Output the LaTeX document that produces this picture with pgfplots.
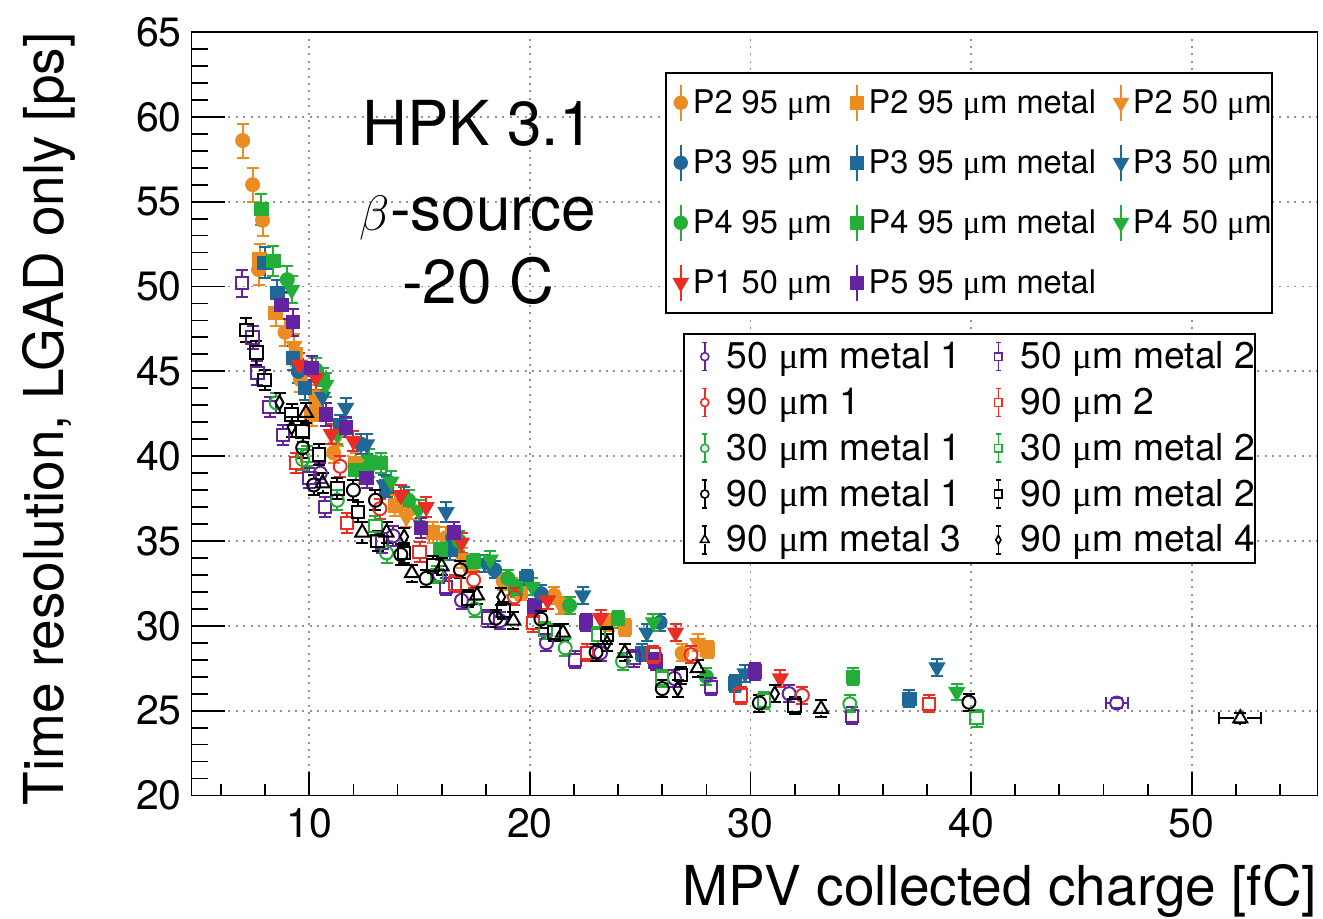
\documentclass[border=0pt]{standalone}
\usepackage{pgfplots}
\pgfplotsset{compat=1.18}
\usepackage{fontspec}
\setmainfont{TeX Gyre Heros}
\newfontfamily\mufont{Liberation Serif}
\newcommand{\um}{{\mufont μ}m}
\definecolor{cor}{RGB}{235,140,35}
\definecolor{cbl}{RGB}{30,105,150}
\definecolor{cgr}{RGB}{35,175,55}
\definecolor{crd}{RGB}{235,45,35}
\definecolor{cpu}{RGB}{100,35,160}
\pgfplotsset{
  leg1/.style={legend image code/.code={
     \path[draw=none, fill=none] (-7.5pt,-15pt) rectangle (6pt,15pt);
     \draw[##1, solid, line width=1pt] (0pt,-9pt) -- (0pt,9pt);
     \draw[##1, solid, every mark/.append style={scale=0.95}] plot coordinates {(0pt,0pt)};}},
  leg2/.style={legend image code/.code={
     \path[draw=none, fill=none] (-10.5pt,-11.45pt) rectangle (11pt,11.45pt);
     \draw[##1, solid, line width=0.8pt] (0pt,-7pt) -- (0pt,-2.2pt) (0pt,2.2pt) -- (0pt,7pt) (-1.2pt,-7pt) -- (1.2pt,-7pt) (-1.2pt,7pt) -- (1.2pt,7pt);
     \draw[##1, solid, line width=0.8pt, every mark/.append style={scale=0.62}] plot coordinates {(0pt,0pt)};}},
  fc/.style={only marks, color=#1, mark=*, mark size=3.25pt, line width=1pt, leg1},
  fs/.style={only marks, color=#1, mark=square*, mark size=3.1pt, line width=1pt, leg1},
  ft/.style={only marks, color=#1, mark=triangle*, mark size=4pt, mark options={rotate=180}, line width=1pt, leg1},
  oc/.style={only marks, color=#1, mark=o, mark size=3.25pt, line width=1pt, leg2},
  os/.style={only marks, color=#1, mark=square, mark size=3.1pt, line width=1pt, leg2},
  ot/.style={only marks, color=#1, mark=triangle, mark size=4pt, line width=1pt, leg2},
  od/.style={only marks, color=#1, mark=diamond, mark size=3.6pt, mark options={xscale=0.75}, line width=1pt, leg2},
  common/.style={
    scale only axis, width=563pt, height=381.75pt,
    at={(0pt,0pt)}, anchor=south west,
    xmin=4.66, xmax=55.7, ymin=20, ymax=65,
    tick align=inside, xtick pos=left, ytick pos=left,
    error bars/y dir=both, error bars/y explicit,
    error bars/error mark options={rotate=90, mark size=3pt, line width=1pt},
  },
}
\begin{document}
\begin{tikzpicture}
\useasboundingbox (-95.75pt,-61.75pt) rectangle (565.75pt,397.75pt);
\begin{axis}[common, name=main,
  xtick={10,20,30,40,50}, ytick={20,25,...,65},
  minor y tick num=4,
  major tick length=16.5pt, minor tick length=8.5pt,
  xtick style={draw=none},
  ytick style={black, line width=0.9pt},
  axis line style={black, line width=0.9pt},
  xmajorgrids, ymajorgrids,
  major grid style={gray!85, line width=0.9pt, dash pattern=on 1pt off 2.7pt},
  /pgf/number format/assume math mode=true,
  tick label style={font=\fontsize{20.5}{24}\selectfont},
  xticklabel style={anchor=north, inner sep=0pt, yshift=-6.25pt},
  yticklabel style={anchor=east, inner sep=0pt, xshift=-4.75pt},
  xlabel={MPV collected charge [fC]},
  ylabel={Time resolution, LGAD only [ps]},
  every axis x label/.style={at={(axis description cs:1,-0.1447)}, anchor=base east, inner sep=0pt, font=\fontsize{27.5}{33}\selectfont},
  every axis y label/.style={at={(axis description cs:-0.1141,1)}, rotate=90, anchor=base east, inner sep=0pt, font=\fontsize{27.5}{33}\selectfont},
  error bars/error bar style={line width=1pt},
  legend columns=3,
  legend style={at={(0.4205,0.9476)}, anchor=north west, draw=black, line width=0.8pt, fill=white,
    inner xsep=0pt, inner ysep=0pt, row sep=0pt, font=\fontsize{16.3}{19}\selectfont,
    nodes={inner sep=0pt}, cells={anchor=west},
    /tikz/every even column/.append style={column sep=5pt}},
]
\addplot[fc=cor] coordinates {
(6.98,58.6) +- (0,1.0) (7.43,56.0) +- (0,1.0) (7.88,53.9) +- (0,0.9) (7.7,51.0) +- (0,0.9)
(8.9,47.3) +- (0,0.8) (9.6,44.5) +- (0,0.7) (10.3,43.5) +- (0,0.7) (11.1,40.2) +- (0,0.6)
(12.5,39.0) +- (0,0.6) (14.6,36.9) +- (0,0.6) (16.2,35.2) +- (0,0.6) (18.8,32.6) +- (0,0.5)
(21.1,31.8) +- (0,0.5) (23.6,30.2) +- (0,0.5) (26.9,28.4) +- (0,0.5)};
\addlegendentry{P2 95 \um}
\addplot[fs=cor] coordinates {
(7.75,51.6) +- (0,0.9) (8.47,48.45) +- (0,0.8) (9.4,46.0) +- (0,0.7) (10.1,42.45) +- (0,0.7)
(10.3,43.15) +- (0,0.7) (12.1,39.6) +- (0,0.6) (13.9,37.1) +- (0,0.6) (15.6,35.5) +- (0,0.6)
(17.3,33.6) +- (0,0.5) (19.6,32.0) +- (0,0.5) (21.6,31.2) +- (0,0.5) (24.3,29.9) +- (0,0.5)
(28.05,28.6) +- (0,0.5)};
\addlegendentry{P2 95 \um\ metal}
\addplot[ft=cor] coordinates {
(9.3,46.5) +- (0,0.7) (11.3,41.2) +- (0,0.6) (14.4,36.4) +- (0,0.6) (16.9,34.0) +- (0,0.6)
(19.2,32.3) +- (0,0.5) (21.4,31.2) +- (0,0.5) (27.6,29.0) +- (0,0.5)};
\addlegendentry{P2 50 \um\hspace{2.5pt}}
\addplot[fc=cbl] coordinates {
(9.5,45.0) +- (0,0.7) (12.35,40.7) +- (0,0.6) (14.3,37.6) +- (0,0.6) (16.5,35.2) +- (0,0.6)
(18.4,33.3) +- (0,0.5) (20.5,31.9) +- (0,0.5) (25.9,30.2) +- (0,0.5)};
\addlegendentry{P3 95 \um}
\addplot[fs=cbl] coordinates {
(7.97,51.4) +- (0,0.9) (8.55,49.6) +- (0,0.8) (9.25,45.8) +- (0,0.7) (9.8,44.0) +- (0,0.7)
(11.4,41.8) +- (0,0.6) (13.5,38.2) +- (0,0.6) (16.4,34.5) +- (0,0.6) (19.85,32.8) +- (0,0.5)
(25.1,28.4) +- (0,0.5) (29.3,26.6) +- (0,0.5) (37.2,25.7) +- (0,0.5)};
\addlegendentry{P3 95 \um\ metal}
\addplot[ft=cbl] coordinates {
(10.6,43.5) +- (0,0.7) (11.65,42.85) +- (0,0.6) (12.6,40.7) +- (0,0.6) (13.4,38.3) +- (0,0.6)
(16.2,36.7) +- (0,0.6) (17.95,33.7) +- (0,0.5) (22.4,31.8) +- (0,0.5) (25.3,29.6) +- (0,0.5)
(29.75,27.2) +- (0,0.5) (38.45,27.55) +- (0,0.5)};
\addlegendentry{P3 50 \um\hspace{2.5pt}}
\addplot[fc=cgr] coordinates {
(9.0,50.4) +- (0,0.8) (10.3,45.1) +- (0,0.7) (12.7,39.4) +- (0,0.6) (14.5,37.4) +- (0,0.6)
(16.8,35.0) +- (0,0.6) (19.0,32.8) +- (0,0.5) (21.8,31.2) +- (0,0.5) (28.0,27.0) +- (0,0.5)};
\addlegendentry{P4 95 \um}
\addplot[fs=cgr] coordinates {
(7.83,54.55) +- (0,0.9) (8.37,51.5) +- (0,0.9) (10.6,44.5) +- (0,0.7) (12.1,39.2) +- (0,0.6)
(13.25,39.6) +- (0,0.6) (15.95,34.5) +- (0,0.6) (17.45,33.75) +- (0,0.5) (19.35,32.2) +- (0,0.5)
(24.0,30.4) +- (0,0.5) (34.65,27.0) +- (0,0.5)};
\addlegendentry{P4 95 \um\ metal}
\addplot[ft=cgr] coordinates {
(9.2,49.8) +- (0,0.8) (10.75,44.2) +- (0,0.7) (11.27,41.3) +- (0,0.6) (12.7,39.8) +- (0,0.6)
(13.7,38.5) +- (0,0.6) (14.95,36.8) +- (0,0.6) (18.2,33.9) +- (0,0.5) (20.1,32.3) +- (0,0.5)
(25.6,30.2) +- (0,0.5) (39.35,26.1) +- (0,0.5)};
\addlegendentry{P4 50 \um\hspace{2.5pt}}
\addplot[ft=crd] coordinates {
(9.55,45.4) +- (0,0.7) (10.3,44.6) +- (0,0.7) (11.0,41.3) +- (0,0.6) (12.0,40.9) +- (0,0.6)
(14.15,37.7) +- (0,0.6) (15.3,37.0) +- (0,0.6) (16.9,34.9) +- (0,0.6) (20.8,31.5) +- (0,0.5)
(23.2,30.45) +- (0,0.5) (26.6,29.6) +- (0,0.5) (31.35,26.9) +- (0,0.5)};
\addlegendentry{P1 50 \um}
\addplot[fs=cpu] coordinates {
(8.74,48.9) +- (0,0.8) (9.25,47.9) +- (0,0.8) (10.1,45.2) +- (0,0.7) (10.75,42.45) +- (0,0.7)
(11.65,41.7) +- (0,0.6) (12.6,38.7) +- (0,0.6) (15.05,35.75) +- (0,0.6) (16.55,35.5) +- (0,0.6)
(20.2,31.1) +- (0,0.5) (22.55,30.2) +- (0,0.5) (25.7,27.9) +- (0,0.5) (30.2,27.3) +- (0,0.5)};
\addlegendentry{P5 95 \um\ metal}
\node[anchor=base, font=\fontsize{31}{37}\selectfont] at (axis cs:17.65,58.33) {HPK 3.1};
\node[anchor=base, font=\fontsize{31}{37}\selectfont] at (axis cs:17.65,53.32) {$\beta$-source};
\node[anchor=base, font=\fontsize{31}{37}\selectfont] at (axis cs:17.65,49.02) {-20 C};
\end{axis}
\begin{axis}[common,
  axis line style={draw=none},
  ytick=\empty, xtick={10,20,30,40,50},
  minor xtick={6,8,12,14,16,18,22,24,26,28,32,34,36,38,42,44,46,48,52,54},
  xticklabels={},
  major tick length=11.5pt, minor tick length=5.5pt,
  xtick style={black, line width=0.9pt},
  error bars/error bar style={line width=1pt, shorten <=3.2pt},
  legend columns=2,
  legend style={at={(0.4365,0.6058)}, anchor=north west, draw=black, line width=0.8pt, fill=white,
    inner xsep=0pt, inner ysep=0pt, row sep=0pt, font=\fontsize{18.6}{21}\selectfont,
    nodes={inner sep=0pt}, cells={anchor=west},
    /tikz/every even column/.append style={column sep=8pt}},
]
\addplot[oc=cpu] coordinates {
(10.5,39.0) +- (0,0.6) (13.8,35.3) +- (0,0.6) (15.9,33.0) +- (0,0.5) (16.9,31.5) +- (0,0.5)
(18.65,30.3) +- (0,0.5) (20.75,29.0) +- (0,0.5) (23.2,28.4) +- (0,0.5) (26.55,26.9) +- (0,0.5)
(31.75,26.0) +- (0,0.5)};
\addlegendentry{50 \um\ metal 1}
\addplot[os=cpu] coordinates {
(6.95,50.2) +- (0,0.8) (7.43,47.0) +- (0,0.7) (7.65,44.9) +- (0,0.7) (8.2,42.9) +- (0,0.6)
(8.8,41.25) +- (0,0.6) (10.0,38.7) +- (0,0.6) (10.7,37.0) +- (0,0.6) (13.3,34.9) +- (0,0.6)
(16.2,32.3) +- (0,0.5) (18.1,30.45) +- (0,0.5) (22.05,28.0) +- (0,0.5) (24.7,28.1) +- (0,0.5)
(28.2,26.4) +- (0,0.5) (34.6,24.7) +- (0,0.5)};
\addlegendentry{50 \um\ metal 2\hspace{8pt}}
\addplot[oc=crd] coordinates {
(11.4,39.4) +- (0,0.6) (13.2,36.9) +- (0,0.6) (17.45,32.7) +- (0,0.5) (19.3,31.7) +- (0,0.5)
(27.3,28.3) +- (0,0.5) (32.35,25.9) +- (0,0.5)};
\addlegendentry{90 \um\ 1}
\addplot[os=crd] coordinates {
(9.4,39.6) +- (0,0.6) (11.7,36.05) +- (0,0.6) (15.0,34.35) +- (0,0.6) (16.6,32.5) +- (0,0.5)
(20.15,30.15) +- (0,0.5) (22.6,28.4) +- (0,0.5) (25.6,28.3) +- (0,0.5) (29.55,25.9) +- (0,0.5)
(38.1,25.4) +- (0,0.5)};
\addlegendentry{90 \um\ 2}
\addplot[oc=cgr] coordinates {
(8.5,43.15) +- (0,0.6) (9.7,39.8) +- (0,0.6) (11.27,37.4) +- (0,0.6) (13.5,34.3) +- (0,0.6)
(17.5,31.0) +- (0,0.5) (21.6,28.7) +- (0,0.5) (24.2,27.9) +- (0,0.5) (34.5,25.4) +- (0,0.5)};
\addlegendentry{30 \um\ metal 1}
\addplot[os=cgr] coordinates {
(9.9,40.0) +- (0,0.6) (13.0,35.9) +- (0,0.6) (15.8,33.0) +- (0,0.5) (20.7,29.75) +- (0,0.5)
(23.1,29.45) +- (0,0.5) (26.0,26.9) +- (0,0.5) (30.6,25.6) +- (0,0.5) (40.25,24.55) +- (0,0.5)};
\addlegendentry{30 \um\ metal 2}
\addplot[oc=black] coordinates {
(9.7,40.5) +- (0,0.6) (10.2,38.3) +- (0,0.6) (12.0,38.0) +- (0,0.6) (13.0,37.4) +- (0,0.6)
(14.15,34.2) +- (0,0.6) (15.3,32.8) +- (0,0.5) (16.85,33.3) +- (0,0.5) (18.45,30.45) +- (0,0.5)
(20.5,30.4) +- (0,0.5) (23.0,28.45) +- (0,0.5) (26.0,26.3) +- (0,0.5) (30.4,25.45) +- (0,0.5)
(39.9,25.5) +- (0,0.5)};
\addlegendentry{90 \um\ metal 1}
\addplot[os=black] coordinates {
(7.15,47.45) +- (0,0.7) (7.6,46.1) +- (0,0.7) (7.97,44.5) +- (0,0.6) (9.2,42.45) +- (0,0.6)
(9.7,41.45) +- (0,0.6) (10.45,40.1) +- (0,0.6) (11.27,38.1) +- (0,0.6) (12.2,36.7) +- (0,0.6)
(13.1,35.0) +- (0,0.6) (14.3,34.3) +- (0,0.6) (15.6,33.6) +- (0,0.5) (17.2,31.6) +- (0,0.5)
(18.8,30.9) +- (0,0.5) (21.1,29.6) +- (0,0.5) (23.5,29.45) +- (0,0.5) (26.85,27.1) +- (0,0.5)
(32.0,25.3) +- (0,0.5)};
\addlegendentry{90 \um\ metal 2}
\addplot[ot=black] coordinates {
(9.85,42.55) +- (0,0.6) (10.6,38.4) +- (0,0.6) (12.4,35.5) +- (0,0.6) (13.5,35.5) +- (0,0.6)
(14.65,33.1) +- (0,0.5) (16.0,33.5) +- (0,0.5) (17.6,31.8) +- (0,0.5) (19.25,30.3) +- (0,0.5)
(21.5,29.6) +- (0,0.5) (24.3,28.4) +- (0,0.5) (27.6,27.5) +- (0,0.5) (33.2,25.1) +- (0,0.5)};
\addlegendentry{90 \um\ metal 3}
\addplot[od=black] coordinates {
(8.65,43.15) +- (0,0.6) (9.2,41.7) +- (0,0.6) (14.3,35.25) +- (0,0.5) (18.7,31.7) +- (0,0.5)
(23.5,29.0) +- (0,0.5) (26.7,26.3) +- (0,0.5) (31.1,26.0) +- (0,0.5)};
\addlegendentry{90 \um\ metal 4}
\addplot[oc=cpu, forget plot, error bars/x dir=both, error bars/x explicit] coordinates {
(46.6,25.45) +- (0.5,0.3)};
\addplot[ot=black, forget plot, error bars/x dir=both, error bars/x explicit] coordinates {
(52.2,24.55) +- (0.95,0.3)};
\end{axis}
\end{tikzpicture}
\end{document}
